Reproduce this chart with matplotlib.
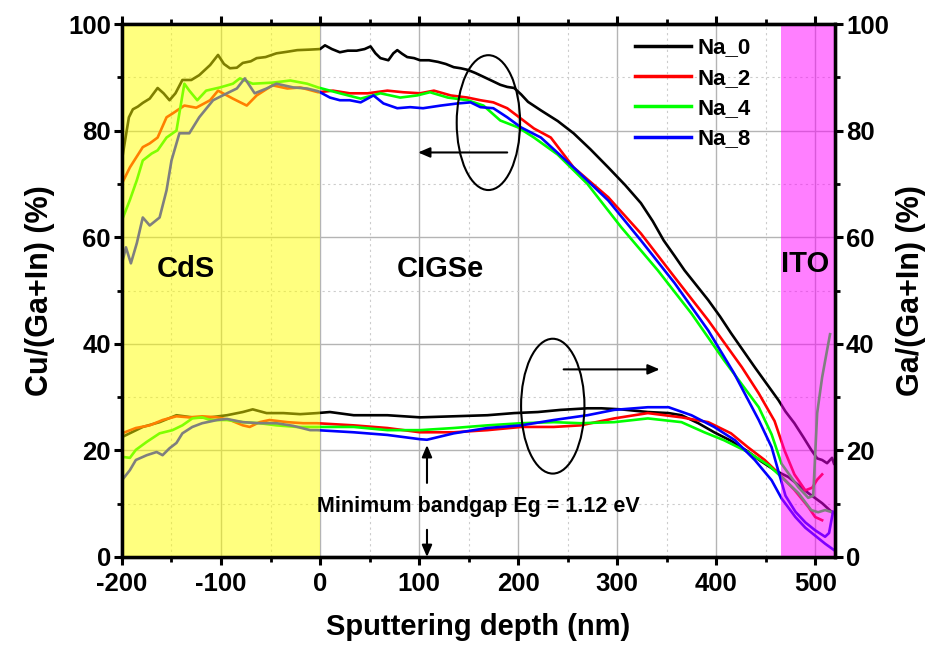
import matplotlib
matplotlib.use("Agg")
import matplotlib.pyplot as plt
import matplotlib.patches as patches
from matplotlib.ticker import MultipleLocator
import numpy as np

plt.rcParams['font.family'] = ['Liberation Sans', 'DejaVu Sans']
plt.rcParams['font.weight'] = 'bold'
plt.rcParams['axes.labelweight'] = 'bold'
plt.rcParams['axes.unicode_minus'] = False

# Cu/(Ga+In) profiles (left axis)
cu_x_na0 = [-200, -197, -193, -189, -184, -179, -172, -164, -158, -152, -146, -139, -130, -122, -111, -103,
            -97, -91, -84, -78, -70, -64, -55, -44, -33, -23, -10, 0, 5, 12, 20, 28, 37, 45, 51, 56, 61, 69,
            74, 78, 83, 88, 95, 101, 110, 119, 127, 135, 142, 149, 157, 165, 173, 182, 189, 196, 203, 210,
            223, 240, 256, 273, 291, 308, 324, 336, 347, 358, 368, 380, 392, 404, 415, 427, 439, 451, 463,
            470, 479, 488, 496, 502, 507, 512, 517, 519]
cu_y_na0 = [74.5, 78, 82.5, 84, 84.5, 85.2, 86, 88, 87, 85.7, 87, 89.5, 89.5, 90.4, 92.3, 94.2,
            92.5, 91.7, 91.8, 92.7, 93, 93.6, 93.8, 94.5, 94.8, 95.1, 95.2, 95.3, 96, 95.3, 94.7, 95, 95, 95.3,
            95.8, 94.5, 93.6, 93.2, 94.5, 95.1, 94.4, 93.8, 93.6, 93.2, 93.2, 92.9, 92.5, 91.9, 91.7, 91.4,
            90.8, 90.1, 89.4, 88.6, 88.2, 88, 86.8, 85.4, 83.8, 81.8, 79.5, 76.5, 73.1, 69.8, 66.4, 63, 59.4,
            56.5, 53.8, 51, 48.2, 45.1, 42, 38.8, 35.6, 32.5, 29.4, 27.3, 25.1, 22.5, 20.1, 18.5, 18.2, 17.6,
            18.6, 17.5]

cu_x_na2 = [-200, -192, -179, -172, -164, -155, -149, -137, -125, -111, -103, -88, -74, -64, -48, -33, -20,
            -2, 13, 30, 48, 68, 84, 101, 115, 132, 149, 162, 175, 189, 199, 216, 233, 256, 291, 324, 358,
            392, 426, 443, 459, 469, 479, 490, 497, 502, 507]
cu_y_na2 = [70.1, 73.1, 76.9, 77.6, 78.7, 82.5, 83.2, 84.7, 84.3, 85.7, 87.5, 86, 84.7, 86.6, 88.5, 87.9,
            88.1, 87.2, 87.5, 87, 87, 87.5, 87.2, 87, 87.5, 86.6, 86.2, 85.7, 85.3, 84.2, 82.8, 80.4, 78.7,
            73.1, 67.5, 60.7, 52.5, 44.4, 35.6, 30.7, 25.5, 20, 15.5, 12.5, 13, 14.5, 15.5]

cu_x_na4 = [-200, -192, -185, -179, -170, -164, -155, -145, -137, -132, -124, -115, -101, -88, -81, -68,
            -48, -30, -13, -2, 20, 41, 61, 81, 98, 111, 129, 149, 165, 182, 200, 216, 240, 270, 304, 341,
            375, 408, 443, 456, 466, 483, 493, 498, 502, 507, 512, 515]
cu_y_na4 = [63.2, 67, 70.7, 74.4, 75.7, 76.3, 78.7, 80, 88.8, 87.5, 85.7, 87.5, 88.1, 88.8, 89.8, 88.8,
            89, 89.4, 88.8, 88.1, 87, 86, 87, 86.2, 86.6, 87.2, 86.2, 85.7, 84.7, 81.9, 80.6, 78.7, 75.5,
            70, 61.9, 53.8, 45.7, 36.9, 28.1, 23, 17.5, 13.1, 11.1, 11.5, 27, 33.7, 38.8, 41.8]

cu_x_na8 = [-200, -196, -191, -185, -179, -172, -162, -155, -150, -142, -132, -122, -108, -94, -84, -76,
            -66, -54, -44, -27, -13, -2, 10, 20, 30, 41, 54, 64, 78, 91, 104, 122, 139, 152, 162, 175, 189,
            203, 223, 256, 291, 324, 358, 392, 418, 443, 456, 463, 470, 480, 490, 500, 510, 514, 518]
cu_y_na8 = [55.1, 58.1, 55.1, 58.9, 63.7, 62.2, 63.7, 68.8, 74.4, 79.5, 79.5, 82.5, 85.7, 87, 87.9, 89.8,
            87, 87.9, 88.8, 88.1, 87.9, 87.4, 86.2, 85.7, 85.7, 85.3, 86.6, 85.1, 84.2, 84.4, 84.2, 84.7,
            85.1, 85.3, 84.4, 84.2, 82.5, 80.6, 78.7, 73.1, 66.9, 59.4, 51.4, 42.5, 34.5, 25.7, 20.6, 16,
            11.5, 8.5, 6.5, 5, 3.8, 4.5, 8.5]

# Ga/(Ga+In) profiles (right axis)
ga_x_na0 = [-200, -179, -162, -145, -129, -111, -94, -78, -68, -54, -37, -20, -3, 10, 34, 68, 101, 135,
            169, 196, 220, 243, 270, 284, 304, 331, 352, 365, 382, 398, 415, 432, 445, 459, 473, 493, 507, 517]
ga_y_na0 = [22.5, 24.4, 25.3, 26.6, 26.2, 26.2, 26.6, 27.2, 27.7, 27, 27, 26.8, 27, 27.2, 26.6, 26.6,
            26.2, 26.4, 26.6, 27, 27.2, 27.6, 27.9, 27.9, 27.7, 27.2, 27, 26.6, 25.1, 23.4, 21.8, 19.8, 18,
            16.3, 15, 12, 10.1, 8.4]

ga_x_na2 = [-200, -186, -172, -159, -145, -132, -119, -104, -91, -78, -71, -61, -51, -33, -17, -3, 34, 68,
            101, 135, 169, 203, 236, 263, 297, 331, 365, 392, 415, 432, 449, 463, 479, 493, 500, 507]
ga_y_na2 = [23.2, 24.2, 24.7, 25.7, 26.4, 26.2, 26.4, 26.2, 25.7, 24.7, 24.4, 25.3, 25.7, 25.3, 25.1,
            25.1, 24.7, 24.2, 23.4, 23.4, 23.8, 24.4, 24.4, 24.7, 26, 27, 26.2, 25.3, 23.2, 20.6, 18.2,
            15.7, 12.6, 9.4, 7.5, 6.9]

ga_x_na4 = [-200, -192, -186, -175, -162, -149, -139, -129, -119, -111, -94, -78, -61, -44, -23, -3, 34,
            68, 101, 135, 169, 203, 236, 263, 297, 331, 365, 388, 408, 432, 453, 466, 483, 496, 503, 510, 517]
ga_y_na4 = [18.8, 18.6, 20.1, 21.6, 23.2, 23.8, 24.7, 26, 26.2, 25.7, 25.7, 25.3, 25.1, 24.7, 24.4,
            24.4, 24.4, 23.8, 23.8, 24.2, 24.7, 25.1, 25.3, 25.1, 25.3, 26, 25.3, 23.4, 21.9, 19.7, 17.2,
            15, 12, 8.8, 8.4, 8.8, 8.4]

ga_x_na8 = [-200, -192, -186, -175, -165, -159, -152, -145, -139, -129, -119, -104, -94, -78, -61, -44,
            -27, -10, -3, 34, 68, 101, 108, 135, 169, 203, 236, 270, 297, 331, 352, 375, 398, 419, 439,
            456, 466, 480, 490, 500, 510, 519]
ga_y_na8 = [14.4, 16.3, 18.2, 19.1, 19.7, 19.1, 20.4, 21.4, 23.2, 24.4, 25.1, 25.7, 25.9, 25.3, 25.1,
            25.1, 24.6, 23.8, 23.8, 23.4, 22.9, 22.1, 22, 23.2, 24.2, 24.7, 25.7, 26.6, 27.6, 28.1, 28.1,
            26.6, 24.4, 21.9, 18.2, 14.4, 11, 7.5, 5.5, 4, 2.5, 1.3]

labels = ['Na_0', 'Na_2', 'Na_4', 'Na_8']
colors = ['#000000', '#ff0000', '#00ff00', '#0000ff']
cu_series = [(cu_x_na0, cu_y_na0), (cu_x_na2, cu_y_na2), (cu_x_na4, cu_y_na4), (cu_x_na8, cu_y_na8)]
ga_series = [(ga_x_na0, ga_y_na0), (ga_x_na2, ga_y_na2), (ga_x_na4, ga_y_na4), (ga_x_na8, ga_y_na8)]

# layer regions
cds_span = (-200, 0)
ito_span = (465, 520)

fig = plt.figure(figsize=(9.34, 6.58), dpi=100)
ax = fig.add_axes([0.1306, 0.1535, 0.7634, 0.81])

for (gx, gy), c in zip(ga_series, colors):
    ax.plot(gx, gy, color=c, lw=1.9, zorder=2)
for (cx, cy), c, lab in zip(cu_series, colors, labels):
    ax.plot(cx, cy, color=c, lw=1.9, zorder=2, label=lab)

ax.axvspan(*cds_span, color='#ffff00', alpha=0.5, lw=0, zorder=3)
ax.axvspan(*ito_span, color='#ff00ff', alpha=0.5, lw=0, zorder=3)

ax.set_xlim(-200, 520)
ax.set_ylim(0, 100)
ax.xaxis.set_major_locator(MultipleLocator(100))
ax.xaxis.set_minor_locator(MultipleLocator(50))
ax.yaxis.set_major_locator(MultipleLocator(20))
ax.yaxis.set_minor_locator(MultipleLocator(10))
ax.set_axisbelow(True)
ax.grid(which='major', color='#b4b4b4', lw=1.0, zorder=0)
ax.grid(which='minor', color='#cccccc', ls=(0, (2, 3)), lw=0.8, zorder=0)

ax2 = ax.twinx()
ax2.set_ylim(0, 100)
ax2.yaxis.set_major_locator(MultipleLocator(20))
ax2.yaxis.set_minor_locator(MultipleLocator(10))

for a in (ax, ax2):
    for s in a.spines.values():
        s.set_linewidth(2.4)
    a.tick_params(which='major', direction='out', length=6, width=2.2, labelsize=18.5)
    a.tick_params(which='minor', direction='out', length=3.5, width=2.0)
ax.tick_params(which='both', top=True)
ax.tick_params(axis='y', pad=2)
ax.tick_params(axis='x', pad=5)
ax2.tick_params(axis='y', pad=2)

ax.set_xlabel('Sputtering depth (nm)', fontsize=21, labelpad=12)
ax.set_ylabel('Cu/(Ga+In) (%)', fontsize=22, labelpad=9)
ax2.set_ylabel('Ga/(Ga+In) (%)', fontsize=22, labelpad=5)

ann_font = ['Liberation Sans', 'DejaVu Sans']
ax.text(-135, 54, 'CdS', fontsize=21, family=ann_font, ha='center', va='center', zorder=5)
ax.text(122, 54, 'CIGSe', fontsize=21, family=ann_font, ha='center', va='center', zorder=5)
ax.text(490, 55, 'ITO', fontsize=21, family=ann_font, ha='center', va='center', zorder=5)
ax.text(160, 9.4, 'Minimum bandgap Eg = 1.12 eV', fontsize=15.5, family=ann_font,
        ha='center', va='center', zorder=5)

# ellipses and arrows marking which axis each group belongs to
ax.add_patch(patches.Ellipse((170, 81.5), 64, 25.3, fill=False, ec='k', lw=1.5, zorder=4))
ax.add_patch(patches.Ellipse((235, 28.3), 64, 25.3, fill=False, ec='k', lw=1.5, zorder=4))
arr = dict(arrowstyle='-|>,head_length=0.7,head_width=0.3', color='k', lw=1.5, shrinkA=0, shrinkB=0)
ax.annotate('', xy=(99, 75.9), xytext=(189, 75.9), arrowprops=arr, zorder=4)
ax.annotate('', xy=(343, 35.2), xytext=(246, 35.2), arrowprops=arr, zorder=4)
ax.annotate('', xy=(108, 21), xytext=(108, 13.9), arrowprops=arr, zorder=4)
ax.annotate('', xy=(108, 0), xytext=(108, 5.1), arrowprops=arr, zorder=4)

leg = ax.legend(loc='upper left', bbox_to_anchor=(0.7195, 0.975), frameon=False,
                prop={'family': ann_font, 'weight': 'bold', 'size': 16},
                handlelength=2.5, handletextpad=0.3, labelspacing=0.42, borderpad=0, borderaxespad=0)
for line in leg.get_lines():
    line.set_linewidth(2.5)
leg.set_zorder(6)

fig.savefig('out.png', dpi=100)
